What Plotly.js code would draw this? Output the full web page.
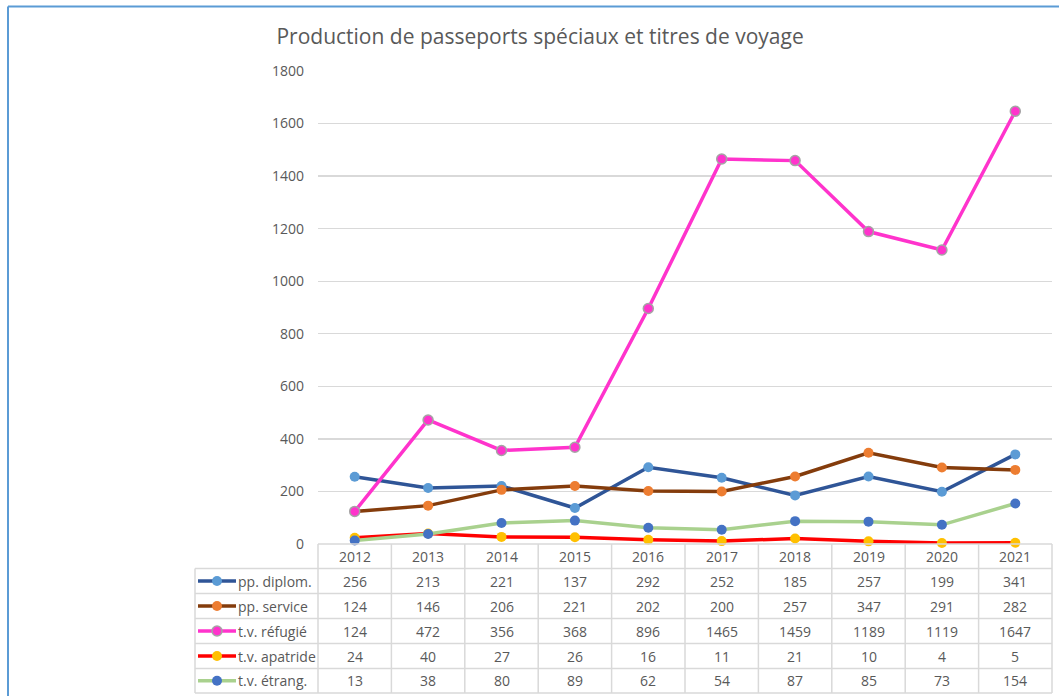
<!DOCTYPE html>
<html><head><meta charset="utf-8">
<script src="https://cdn.plot.ly/plotly-3.0.1.min.js"></script>
<style>body{margin:0;background:#fff}#c{width:1059px;height:696px}</style>
</head><body><div id="c"></div>
<script>
const years = ['2012','2013','2014','2015','2016','2017','2018','2019','2020','2021'];
const seriesNames = ['pp. diplom.','pp. service','t.v. réfugié','t.v. apatride','t.v. étrang.'];
const ppDiplom   = [256,213,221,137,292,252,185,257,199,341];
const ppService  = [124,146,206,221,202,200,257,347,291,282];
const tvRefugie  = [124,472,356,368,896,1465,1459,1189,1119,1647];
const tvApatride = [24,40,27,26,16,11,21,10,4,5];
const tvEtrang   = [13,38,80,89,62,54,87,85,73,154];
const yTicks = [0,200,400,600,800,1000,1200,1400,1600,1800];

const allValues = [ppDiplom, ppService, tvRefugie, tvApatride, tvEtrang];
const styles = [
  {line:'#2F5597', mk:'#5B9BD5', mkl:'#5B9BD5'},
  {line:'#843C0C', mk:'#ED7D31', mkl:'#ED7D31'},
  {line:'#FF33CC', mk:'#FF33CC', mkl:'#A5A5A5'},
  {line:'#FF0000', mk:'#FFC000', mkl:'#FFC000'},
  {line:'#A9D18E', mk:'#4472C4', mkl:'#4472C4'}
];

const L=318, R=1052, T=71, B=544, W=R-L, H=B-T;
const px = p => (p-L)/W;
const py = p => (B-p)/H;

const FONT = 'Open Sans, Noto Sans, sans-serif';
const GRAY = '#595959';
const GRID = '#D9D9D9';

const traces = allValues.map((vals,i)=>({
  type:'scatter', mode:'lines+markers', name:seriesNames[i],
  x:years, y:vals,
  line:{color:styles[i].line, width:3.5},
  marker:{size:10, color:styles[i].mk, line:{color:styles[i].mkl, width: i===2?1.5:0}},
  cliponaxis:false, showlegend:false
}));

const shapes = [];
const annotations = [];
// outer chart border
shapes.push({type:'line', xref:'paper', yref:'paper', x0:px(8), x1:px(1070), y0:py(6.5), y1:py(6.5), line:{color:'#5B9BD5', width:2}});
shapes.push({type:'line', xref:'paper', yref:'paper', x0:px(8), x1:px(8), y0:py(6.5), y1:py(710), line:{color:'#5B9BD5', width:2}});

// table geometry
const rowEdges = [544,568.5,593.5,618.5,643.5,668.5,693];
const colLeft = 195;
const colW = W/years.length;
shapes.push({type:'line', xref:'paper', yref:'paper', x0:px(L), x1:px(R), y0:py(rowEdges[0]), y1:py(rowEdges[0]), line:{color:GRID,width:1.5}});
for(let r=1;r<rowEdges.length;r++){
  shapes.push({type:'line', xref:'paper', yref:'paper', x0:px(colLeft), x1:px(R), y0:py(rowEdges[r]), y1:py(rowEdges[r]), line:{color:GRID,width:1.5}});
}
shapes.push({type:'line', xref:'paper', yref:'paper', x0:px(colLeft), x1:px(colLeft), y0:py(rowEdges[1]), y1:py(rowEdges[6]), line:{color:GRID,width:1.5}});
for(let c=0;c<=years.length;c++){
  const xx = L + c*colW;
  shapes.push({type:'line', xref:'paper', yref:'paper', x0:px(xx), x1:px(xx), y0:py(rowEdges[0]), y1:py(rowEdges[6]), line:{color:GRID,width:1.5}});
}
const rowCenter = r => (rowEdges[r]+rowEdges[r+1])/2;
const TF = {family:FONT,size:14,color:GRAY};
// header years (category index positions on the x axis)
years.forEach((y,j)=>{
  annotations.push({xref:'x', yref:'paper', x:j, y:py(rowCenter(0)), text:y, showarrow:false, xanchor:'center', yanchor:'middle', font:TF});
});
allValues.forEach((vals,i)=>{
  const cy = py(rowCenter(i+1));
  vals.forEach((v,j)=>{
    annotations.push({xref:'x', yref:'paper', x:j, y:cy, text:String(v), showarrow:false, xanchor:'center', yanchor:'middle', font:TF});
  });
  annotations.push({xref:'paper', yref:'paper', x:px(236), y:cy, text:seriesNames[i], showarrow:false, xanchor:'left', yanchor:'middle', font:TF});
  shapes.push({type:'line', xref:'paper', yref:'paper', x0:px(198), x1:px(236), y0:cy, y1:cy, line:{color:styles[i].line, width:3.5}});
  shapes.push({type:'circle', xref:'paper', yref:'paper', xsizemode:'pixel', ysizemode:'pixel', xanchor:px(217), yanchor:cy, x0:-5, x1:5, y0:-5, y1:5, fillcolor:styles[i].mk, line:{color:styles[i].mkl, width: i===2?1.5:0}});
});

const layout = {
  width:1059, height:696,
  margin:{l:L, r:1059-R, t:T, b:696-B},
  paper_bgcolor:'#fff', plot_bgcolor:'#fff',
  title:{text:'Production de passeports spéciaux et titres de voyage', x:0.51, xanchor:'center', y:1-37/696, yanchor:'middle', font:{family:FONT, size:21, color:GRAY}},
  xaxis:{type:'category', range:[-0.5,9.5], showticklabels:false, showgrid:false, zeroline:false, showline:false, ticks:''},
  yaxis:{range:[0,1800], tickvals:yTicks, ticktext:yTicks.map(String), showgrid:true, gridcolor:GRID, gridwidth:1.3, zeroline:false, showline:false, ticks:'', ticklabelstandoff:13, tickfont:{family:FONT,size:14,color:GRAY}},
  shapes, annotations,
  showlegend:false
};
Plotly.newPlot('c', traces, layout, {displayModeBar:false, staticPlot:true});
</script></body></html>
